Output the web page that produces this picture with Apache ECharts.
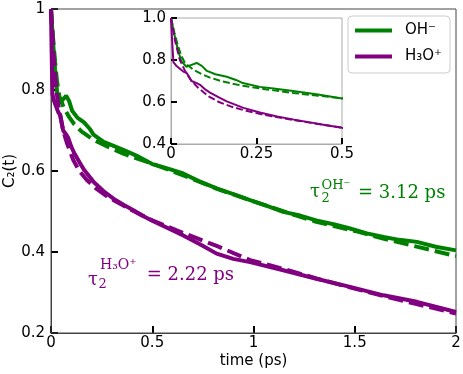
<!DOCTYPE html>
<html lang="en">
<head>
    <meta charset="UTF-8">
    <title>C2(t) OH- / H3O+</title>
    <script src="https://cdn.jsdelivr.net/npm/echarts@6/dist/echarts.min.js"></script>
    <style>
        html, body { margin: 0; padding: 0; background: #fff; }
        #chart { width: 463px; height: 374px; }
    </style>
</head>
<body>
    <div id="chart"></div>
    <script>
        // simulated C2(t), OH-
        var tOH = [0, 0.01, 0.02, 0.03, 0.045, 0.06, 0.075, 0.09, 0.105, 0.13, 0.163, 0.19, 0.21, 0.26, 0.3, 0.357, 0.43, 0.5, 0.57, 0.653, 0.73, 0.818, 0.9, 0.983, 1.06, 1.147, 1.23, 1.31, 1.4, 1.477, 1.56, 1.642, 1.72, 1.807, 1.9, 2.0];
        var cOH = [1.0, 0.92, 0.85, 0.795, 0.768, 0.777, 0.786, 0.772, 0.748, 0.732, 0.72, 0.705, 0.69, 0.672, 0.664, 0.652, 0.636, 0.617, 0.607, 0.594, 0.575, 0.557, 0.543, 0.528, 0.515, 0.499, 0.49, 0.478, 0.468, 0.458, 0.446, 0.437, 0.43, 0.425, 0.413, 0.404];
        // fit, OH-
        var tOHfit = [0, 0.01, 0.02, 0.03, 0.041, 0.065, 0.09, 0.114, 0.15, 0.21, 0.28, 0.357, 0.43, 0.5, 0.65, 0.82, 1.0, 1.15, 1.3, 1.5, 1.65, 1.8, 2.0];
        var fOH = [1.0, 0.93, 0.87, 0.82, 0.785, 0.754, 0.733, 0.716, 0.698, 0.677, 0.66, 0.643, 0.63, 0.618, 0.59, 0.556, 0.525, 0.5, 0.476, 0.452, 0.432, 0.414, 0.39];
        // simulated C2(t), H3O+
        var tH3O = [0, 0.003, 0.007, 0.017, 0.036, 0.046, 0.06, 0.075, 0.085, 0.1, 0.114, 0.14, 0.163, 0.212, 0.26, 0.31, 0.36, 0.407, 0.45, 0.5, 0.653, 0.74, 0.818, 0.9, 0.983, 1.147, 1.31, 1.477, 1.642, 1.807, 2.0];
        var cH3O = [1.0, 0.9, 0.79, 0.77, 0.745, 0.738, 0.70, 0.69, 0.682, 0.66, 0.645, 0.622, 0.603, 0.572, 0.55, 0.531, 0.516, 0.503, 0.49, 0.477, 0.441, 0.418, 0.396, 0.383, 0.375, 0.355, 0.334, 0.314, 0.293, 0.277, 0.252];
        // fit, H3O+
        var tH3Ofit = [0, 0.012, 0.026, 0.041, 0.06, 0.08, 0.11, 0.14, 0.178, 0.22, 0.275, 0.33, 0.4, 0.5, 0.653, 0.818, 0.983, 1.15, 1.31, 1.48, 1.65, 1.8, 2.0];
        var fH3O = [1.0, 0.89, 0.80, 0.748, 0.70, 0.667, 0.627, 0.60, 0.577, 0.558, 0.538, 0.522, 0.503, 0.478, 0.447, 0.415, 0.38, 0.358, 0.335, 0.312, 0.29, 0.272, 0.248];

        var names = ['OH⁻', 'H₃O⁺'];
        var green = '#008000', purple = '#800080';
        var font = 'DejaVu Sans';
        var serif = 'DejaVu Serif';

        function pairs(t, v) {
            return t.map(function (x, i) { return [x, v[i]]; });
        }

        function line(name, t, v, color, width, dash, idx) {
            return {
                name: name,
                type: 'line',
                xAxisIndex: idx,
                yAxisIndex: idx,
                data: pairs(t, v),
                symbol: 'none',
                clip: true,
                lineStyle: { color: color, width: width, type: dash || 'solid' },
                itemStyle: { color: color },
                emphasis: { disabled: true },
                z: 3 + idx * 10
            };
        }

        function tick(len) {
            return { show: true, inside: true, length: len, lineStyle: { color: '#000', width: 2 } };
        }

        var chart = echarts.init(document.getElementById('chart'));

        var option = {
            animation: false,
            textStyle: { fontFamily: font },
            grid: [
                { left: 51, top: 9, right: 7, bottom: 41, outerBoundsMode: 'none', containLabel: false, show: true, borderColor: '#444', borderWidth: 1, z: 1 },
                { left: 171, top: 18, width: 171, height: 126, outerBoundsMode: 'none', containLabel: false, show: true, borderColor: '#aaa', borderWidth: 1, backgroundColor: '#fff', z: 10 }
            ],
            xAxis: [
                {
                    type: 'value', gridIndex: 0, min: 0, max: 2, interval: 0.5,
                    name: 'time (ps)', nameLocation: 'middle', nameGap: 21, nameMoveOverlap: false,
                    nameTextStyle: { fontSize: 15, color: '#000', fontFamily: font },
                    axisLine: { lineStyle: { color: '#444' } },
                    axisTick: tick(7),
                    axisLabel: { fontSize: 15, color: '#000', margin: 3, fontFamily: font },
                    splitLine: { show: false }
                },
                {
                    type: 'value', gridIndex: 1, min: 0, max: 0.5, interval: 0.25,
                    axisLine: { lineStyle: { color: '#aaa' } },
                    axisTick: tick(6),
                    axisLabel: { fontSize: 15, color: '#000', margin: 3, fontFamily: font },
                    splitLine: { show: false }, z: 10
                }
            ],
            yAxis: [
                {
                    type: 'value', gridIndex: 0, min: 0.2, max: 1, interval: 0.2,
                    name: 'C₂(t)', nameLocation: 'middle', nameGap: 33, nameMoveOverlap: false,
                    nameTextStyle: { fontSize: 15, color: '#000', fontFamily: font },
                    axisLine: { lineStyle: { color: '#444' } },
                    axisTick: tick(7),
                    axisLabel: {
                        fontSize: 15, color: '#000', margin: 6, fontFamily: font,
                        formatter: function (v) { return String(Math.round(v * 10) / 10); }
                    },
                    splitLine: { show: false }
                },
                {
                    type: 'value', gridIndex: 1, min: 0.4, max: 1.0, interval: 0.2,
                    axisLine: { lineStyle: { color: '#aaa' } },
                    axisTick: tick(6),
                    axisLabel: {
                        fontSize: 15, color: '#000', margin: 5, fontFamily: font,
                        formatter: function (v) { return v.toFixed(1); }
                    },
                    splitLine: { show: false }, z: 10
                }
            ],
            legend: {
                data: names,
                orient: 'vertical',
                left: 348, top: 16,
                itemWidth: 37, itemHeight: 14, itemGap: 11,
                padding: [7, 8, 9, 5],
                backgroundColor: '#fff',
                borderColor: '#ccc', borderWidth: 1, borderRadius: 4,
                itemStyle: { opacity: 0 },
                lineStyle: { width: 4 },
                textStyle: { fontSize: 15, color: '#000', fontFamily: font, padding: [0, 0, 0, 8] },
                selectedMode: false,
                z: 20
            },
            series: [
                line(names[0], tOH, cOH, green, 4, null, 0),
                line('OH⁻ fit', tOHfit, fOH, green, 4, [15, 6], 0),
                line(names[1], tH3O, cH3O, purple, 4, null, 0),
                line('H₃O⁺ fit', tH3Ofit, fH3O, purple, 4, [15, 6], 0),
                line('OH⁻ inset', tOH, cOH, green, 2, null, 1),
                line('OH⁻ fit inset', tOHfit, fOH, green, 2, [7, 3], 1),
                line('H₃O⁺ inset', tH3O, cH3O, purple, 2, null, 1),
                line('H₃O⁺ fit inset', tH3Ofit, fH3O, purple, 2, [7, 3], 1)
            ],
            graphic: [
                // tau_2^{OH-} = 3.12 ps
                { type: 'text', x: 310, y: 192.6, z: 30, style: { text: 'τ', fontSize: 18, fontFamily: serif, fill: green, align: 'left', verticalAlign: 'middle' } },
                { type: 'text', x: 321.5, y: 198.8, z: 30, style: { text: '2', fontSize: 13, fontFamily: serif, fill: green, align: 'left', verticalAlign: 'middle' } },
                { type: 'text', x: 321.5, y: 185.4, z: 30, style: { text: 'OH⁻', fontSize: 13, fontFamily: serif, fill: green, align: 'left', verticalAlign: 'middle' } },
                { type: 'text', x: 358, y: 192.9, z: 30, style: { text: '= 3.12 ps', fontSize: 18, fontFamily: serif, fill: green, align: 'left', verticalAlign: 'middle' } },
                // tau_2^{H3O+} = 2.22 ps
                { type: 'text', x: 88, y: 280, z: 30, style: { text: 'τ', fontSize: 18, fontFamily: serif, fill: purple, align: 'left', verticalAlign: 'middle' } },
                { type: 'text', x: 98.5, y: 284.4, z: 30, style: { text: '2', fontSize: 13, fontFamily: serif, fill: purple, align: 'left', verticalAlign: 'middle' } },
                { type: 'text', x: 100, y: 265, z: 30, style: { text: 'H₃O⁺', fontSize: 14, fontFamily: serif, fill: purple, align: 'left', verticalAlign: 'middle' } },
                { type: 'text', x: 146.7, y: 275.3, z: 30, style: { text: '= 2.22 ps', fontSize: 18, fontFamily: serif, fill: purple, align: 'left', verticalAlign: 'middle' } }
            ]
        };

        chart.setOption(option);
    </script>
</body>
</html>
